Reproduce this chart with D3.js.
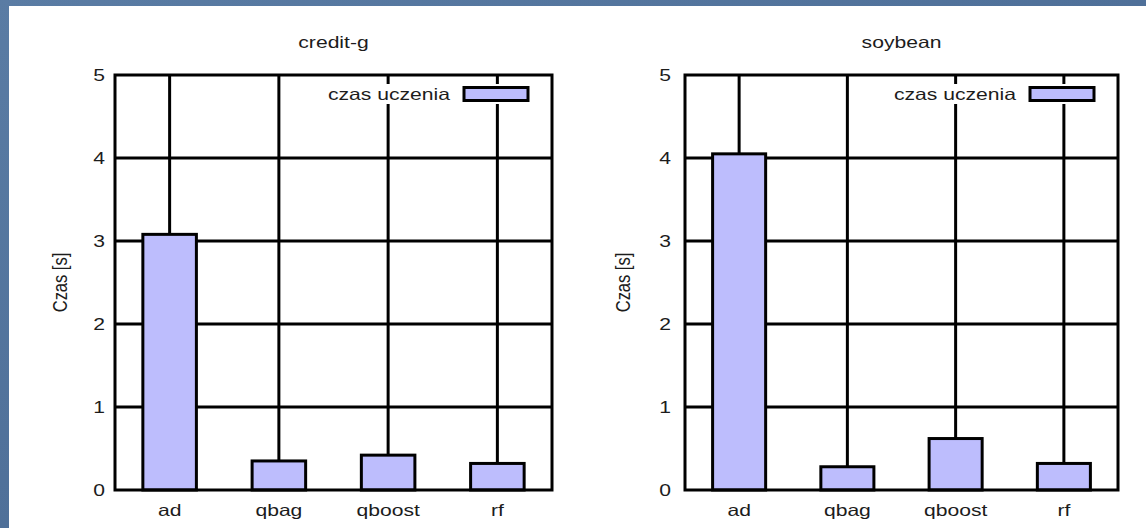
<!DOCTYPE html>
<html>
<head>
<meta charset="utf-8">
<script src="https://cdn.jsdelivr.net/npm/d3@7"></script>
<style>
  html, body { margin: 0; padding: 0; background: #ffffff; }
  svg { display: block; }
  text { font-family: "Liberation Sans", Arial, sans-serif; fill: #1c1c1c; }
</style>
</head>
<body>
<svg id="chart" width="1146" height="528"></svg>
<script>
// Training time per method, two datasets
const categories = ["ad", "qbag", "qboost", "rf"];
const creditG = [3.08, 0.35, 0.42, 0.32];
const soybean = [4.05, 0.28, 0.62, 0.32];
const yTicks = [0, 1, 2, 3, 4, 5];
const titles = ["credit-g", "soybean"];
const yLabel = "Czas [s]";
const legendLabel = "czas uczenia";

const W = 1146, H = 528;
const barFill = "#bdbdfd";
const lineW = 3;
const stretch = 1.28;   // glyphs are drawn wide
const fontSize = 16.5;

const svg = d3.select("#chart");

// framed slide background
const bg = svg.append("defs").append("linearGradient")
  .attr("id", "slideBlue").attr("x1", 0).attr("y1", 0).attr("x2", 1).attr("y2", 1);
bg.append("stop").attr("offset", "0%").attr("stop-color", "#5a7ca4");
bg.append("stop").attr("offset", "50%").attr("stop-color", "#4f7099");
bg.append("stop").attr("offset", "100%").attr("stop-color", "#5b7ea6");
svg.append("rect").attr("width", W).attr("height", H).attr("fill", "url(#slideBlue)");
svg.append("rect").attr("x", 9).attr("y", 6).attr("width", W - 9).attr("height", H - 6).attr("fill", "#ffffff");

const panels = [
  { title: titles[0], values: creditG, left: 115, right: 552, tickRight: 105, yLabelX: 61 },
  { title: titles[1], values: soybean, left: 685, right: 1118, tickRight: 671, yLabelX: 624 }
];
const plotTop = 75, plotBottom = 490;

function wideText(g, x, y, str, anchor, rotate) {
  return g.append("text")
    .attr("transform", `translate(${x},${y}) scale(${stretch},1)` + (rotate ? " rotate(-90)" : ""))
    .attr("text-anchor", anchor)
    .attr("font-size", fontSize)
    .text(str);
}

panels.forEach(p => {
  const g = svg.append("g");
  const x = d3.scaleBand().domain(categories).range([p.left, p.right]).padding(0);
  const y = d3.scaleLinear().domain([0, 5]).range([plotBottom, plotTop]);
  const cx = c => x(c) + x.bandwidth() / 2;
  const barW = x.bandwidth() * 0.49;

  // horizontal grid
  g.selectAll(".hgrid").data(yTicks.slice(1, -1)).join("line")
    .attr("x1", p.left).attr("x2", p.right)
    .attr("y1", d => y(d)).attr("y2", d => y(d))
    .attr("stroke", "#000").attr("stroke-width", lineW);

  // vertical grid through each category
  g.selectAll(".vgrid").data(categories).join("line")
    .attr("x1", cx).attr("x2", cx)
    .attr("y1", plotTop).attr("y2", plotBottom)
    .attr("stroke", "#000").attr("stroke-width", lineW);

  // bars
  g.selectAll(".bar").data(categories).join("rect")
    .attr("x", c => cx(c) - barW / 2)
    .attr("width", barW)
    .attr("y", (c, i) => y(p.values[i]))
    .attr("height", (c, i) => y(0) - y(p.values[i]))
    .attr("fill", barFill).attr("stroke", "#000").attr("stroke-width", lineW);

  // frame
  g.append("rect")
    .attr("x", p.left).attr("y", plotTop)
    .attr("width", p.right - p.left).attr("height", plotBottom - plotTop)
    .attr("fill", "none").attr("stroke", "#000").attr("stroke-width", lineW);

  // legend with opaque background
  const swR = p.right - 24, swL = swR - 64;
  const lg = g.append("g");
  const lt = wideText(lg, swL - 14, 99.5, legendLabel, "end", false);
  const tw = lt.node().getBBox().width * stretch;
  lg.insert("rect", "text")
    .attr("x", swL - 14 - tw - 4).attr("y", 84)
    .attr("width", tw + 4 + 14 + 64 + 3).attr("height", 20)
    .attr("fill", "#ffffff");
  lg.append("rect")
    .attr("x", swL).attr("y", 87.5).attr("width", swR - swL).attr("height", 13)
    .attr("fill", barFill).attr("stroke", "#000").attr("stroke-width", lineW);

  // y tick labels
  yTicks.forEach(t => wideText(g, p.tickRight, y(t) + 6, String(t), "end", false));

  // x tick labels
  categories.forEach(c => wideText(g, cx(c), 516, c, "middle", false));

  // title
  wideText(g, (p.left + p.right) / 2, 48, p.title, "middle", false);

  // y axis label
  wideText(g, p.yLabelX + 6, (plotTop + plotBottom) / 2, yLabel, "middle", true);
});
</script>
</body>
</html>
